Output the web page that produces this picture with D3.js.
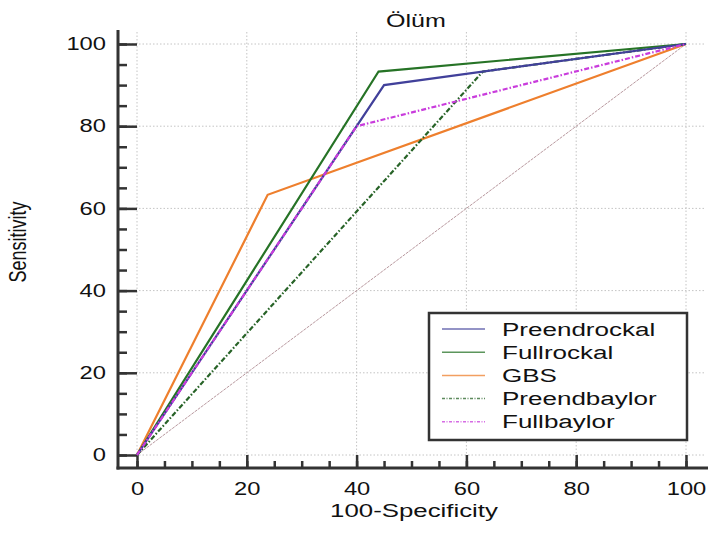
<!DOCTYPE html>
<html>
<head>
<meta charset="utf-8">
<script src="https://cdn.jsdelivr.net/npm/d3@7"></script>
<style>
  body { margin: 0; background: #fff; }
  text { font-family: Arial, "Liberation Sans", sans-serif; fill: #111; }
</style>
</head>
<body>
<svg id="chart" width="711" height="535"></svg>
<script>
// ROC points: [100-Specificity, Sensitivity]
const preendrockal = [[0, 0], [45, 90], [100, 100]];
const fullrockal = [[0, 0], [44, 93.3], [100, 100]];
const gbs = [[0, 0], [23.8, 63.3], [100, 100]];
const preendbaylor = [[0, 0], [63, 93.3], [100, 100]];
const fullbaylor = [[0, 0], [40, 80], [100, 100]];
const diagonal = [[0, 0], [100, 100]];

const seriesNames = ["Preendrockal", "Fullrockal", "GBS", "Preendbaylor", "Fullbaylor"];
const majorTicks = [0, 20, 40, 60, 80, 100];
const minorTicks = d3.range(0, 101, 5);

const SX = 1.32; // text in the original is stretched sideways

const svg = d3.select("#chart");

const x = d3.scaleLinear().domain([0, 100]).range([137, 686]);
const y = d3.scaleLinear().domain([0, 100]).range([455, 44]);

const axisX = 118, axisY = 468;

// grid
const grid = svg.append("g").attr("stroke", "#c4c4c4").attr("stroke-width", 1).attr("stroke-dasharray", "1.5,2");
grid.selectAll(".gx").data(majorTicks).enter().append("line")
    .attr("x1", d => x(d)).attr("x2", d => x(d))
    .attr("y1", 32).attr("y2", axisY);
grid.selectAll(".gy").data(majorTicks).enter().append("line")
    .attr("x1", axisX).attr("x2", 706)
    .attr("y1", d => y(d)).attr("y2", d => y(d));

// axes
const yAxis = svg.append("g")
    .attr("transform", `translate(${axisX},0)`)
    .call(d3.axisLeft(y).tickValues(majorTicks).tickSizeInner(-(x(0) - axisX)).tickSizeOuter(0).tickPadding(12));
const yMinor = svg.append("g")
    .attr("transform", `translate(${axisX},0)`)
    .call(d3.axisLeft(y).tickValues(minorTicks).tickSizeInner(-9).tickSizeOuter(0).tickFormat(""));
const xAxis = svg.append("g")
    .attr("transform", `translate(0,${axisY})`)
    .call(d3.axisBottom(x).tickValues(majorTicks).tickSizeInner(-(axisY - y(0))).tickSizeOuter(0).tickPadding(14));
const xMinor = svg.append("g")
    .attr("transform", `translate(0,${axisY})`)
    .call(d3.axisBottom(x).tickValues(minorTicks).tickSizeInner(-7).tickSizeOuter(0).tickFormat(""));

[yAxis, yMinor, xAxis, xMinor].forEach(g => {
  g.select(".domain").remove();
  g.selectAll(".tick line").attr("stroke", "#333").attr("stroke-width", 2.5);
  g.selectAll("text").attr("font-size", 18).attr("fill", "#111")
      .attr("font-family", "Arial, 'Liberation Sans', sans-serif");
});
yAxis.selectAll("text").attr("x", -12 / SX).attr("transform", `scale(${SX},1)`);
xAxis.selectAll("text").attr("transform", `scale(${SX},1)`);

svg.append("line").attr("x1", axisX).attr("x2", axisX).attr("y1", 30).attr("y2", axisY + 1.5)
    .attr("stroke", "#333").attr("stroke-width", 3);
svg.append("line").attr("x1", axisX - 1.5).attr("x2", 708).attr("y1", axisY).attr("y2", axisY)
    .attr("stroke", "#333").attr("stroke-width", 3);

// curves
const line = d3.line().x(d => x(d[0])).y(d => y(d[1]));
const curves = [
  { data: diagonal, color: "#b8989e", width: 1, dash: "3,1" },
  { data: gbs, color: "#ee7f2d", width: 2.2, dash: null },
  { data: preendbaylor, color: "#276327", width: 2.2, dash: "5,2,1.5,2" },
  { data: fullrockal, color: "#267326", width: 2.2, dash: null },
  { data: preendrockal, color: "#41409a", width: 2.2, dash: null },
  { data: fullbaylor, color: "#c93cdc", width: 2.2, dash: "5,2,1.5,2" }
];
svg.append("g").selectAll("path").data(curves).enter().append("path")
    .attr("d", d => line(d.data))
    .attr("fill", "none")
    .attr("stroke", d => d.color)
    .attr("stroke-width", d => d.width)
    .attr("stroke-dasharray", d => d.dash)
    .attr("stroke-linejoin", "miter");

// text helper: stretched horizontally like the source image
function label(px, py, str, size, anchor, sx, rotate) {
  const g = svg.append("g").attr("transform", `translate(${px},${py}) scale(${sx},1)` + (rotate ? " rotate(-90)" : ""));
  g.append("text").attr("text-anchor", anchor).attr("font-size", size).text(str);
}

label(416, 27, "Ölüm", 19, "middle", SX);
label(414, 517, "100-Specificity", 19, "middle", 1.36);
label(26, 242, "Sensitivity", 18, "middle", SX, true);

// legend
const legendColors = ["#41409a", "#267326", "#ee7f2d", "#276327", "#c93cdc"];
const legendDash = [null, null, null, "3,1.5,1,1.5", "3,1.5,1,1.5"];
const legend = svg.append("g");
legend.append("rect").attr("x", 429).attr("y", 313).attr("width", 258).attr("height", 127)
    .attr("fill", "#fff").attr("stroke", "#333").attr("stroke-width", 2.5);
const rows = legend.selectAll(".row").data(seriesNames).enter().append("g")
    .attr("transform", (d, i) => `translate(0,${329 + i * 23.2})`);
rows.append("line").attr("x1", 442).attr("x2", 485).attr("y1", 0).attr("y2", 0)
    .attr("stroke", (d, i) => legendColors[i]).attr("stroke-width", 1.5).attr("opacity", 0.75)
    .attr("stroke-dasharray", (d, i) => legendDash[i]);
rows.append("g").attr("transform", `translate(502,6.5) scale(1.37,1)`)
    .append("text").attr("font-size", 19).text(d => d);
</script>
</body>
</html>
